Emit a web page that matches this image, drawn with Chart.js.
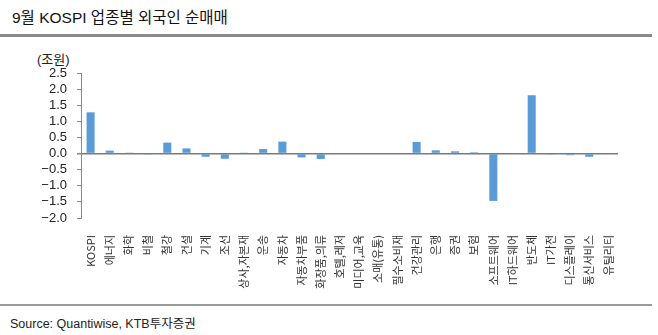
<!DOCTYPE html>
<html>
<head>
<meta charset="utf-8">
<script src="https://cdn.jsdelivr.net/npm/chart.js@4"></script>
<style>
  body { margin: 0; background: #fff; }
  #wrap { position: relative; width: 658px; height: 335px; font-family: "Liberation Sans", "Noto Sans CJK KR", sans-serif; }
  #title { position: absolute; left: 12px; top: 5px; font-size: 15.5px; color: #111; }
  #topLine { position: absolute; left: 0; top: 34px; width: 652px; height: 3px; background: #8a8a8a; }
  #unit { position: absolute; left: 37px; top: 49px; font-size: 13px; color: #222; }
  #bottomLine { position: absolute; left: 0; top: 304px; width: 652px; height: 2px; background: #9a9a9a; }
  #source { position: absolute; left: 10px; top: 313px; font-size: 12.5px; color: #222; }
  #chartBox { position: absolute; left: 0; top: 40px; width: 658px; height: 260px; }
</style>
</head>
<body>
<div id="wrap">
  <div id="title">9월 KOSPI 업종별 외국인 순매매</div>
  <div id="topLine"></div>
  <div id="unit">(조원)</div>
  <div id="chartBox"><canvas id="sectorChart"></canvas></div>
  <div id="bottomLine"></div>
  <div id="source">Source: Quantiwise, KTB투자증권</div>
</div>
<script>
const sectors = [
  "KOSPI", "에너지", "화학", "비철", "철강", "건설", "기계", "조선",
  "상사,자본재", "운송", "자동차", "자동차부품", "화장품,의류", "호텔,레저",
  "미디어,교육", "소매(유통)", "필수소비재", "건강관리", "은행", "증권", "보험",
  "소프트웨어", "IT하드웨어", "반도체", "IT가전", "디스플레이", "통신서비스", "유틸리티"
];

// 외국인 순매매 (조원)
const foreignNetBuy = [
  1.28, 0.09, 0.03, -0.03, 0.34, 0.16, -0.10, -0.16,
  0.03, 0.14, 0.37, -0.12, -0.17, 0.0,
  0.0, 0.0, 0.0, 0.36, 0.10, 0.07, 0.04,
  -1.47, 0.0, 1.81, -0.03, -0.05, -0.10, 0.0
];

const yTicks = [2.5, 2.0, 1.5, 1.0, 0.5, 0.0, -0.5, -1.0, -1.5, -2.0];

const ctx = document.getElementById("sectorChart").getContext("2d");

new Chart(ctx, {
  type: "bar",
  data: {
    labels: sectors,
    datasets: [{
      data: foreignNetBuy,
      backgroundColor: "#5b9bd5",
      barPercentage: 0.42,
      categoryPercentage: 1.0
    }]
  },
  options: {
    responsive: true,
    maintainAspectRatio: false,
    animation: false,
    layout: { padding: { top: 33, right: 40, left: 0, bottom: 0 } },
    plugins: {
      legend: { display: false },
      tooltip: { enabled: false }
    },
    scales: {
      x: {
        grid: { display: false },
        border: { display: false },
        ticks: {
          autoSkip: false,
          minRotation: 90,
          maxRotation: 90,
          padding: 9,
          color: "#333",
          font: { family: "'Noto Sans CJK KR'", size: 11 }
        },
        afterFit: function(scale) { scale.height = 82; }
      },
      y: {
        min: -2.0,
        max: 2.5,
        afterBuildTicks: function(scale) {
          scale.ticks = yTicks.map(v => ({ value: v }));
        },
        grid: {
          drawOnChartArea: true,
          drawTicks: true,
          tickLength: 4,
          tickColor: "#888",
          color: function(c) { return c.tick && c.tick.value === 0 ? "#7a7a7a" : "rgba(0,0,0,0)"; },
          lineWidth: function(c) { return c.tick && c.tick.value === 0 ? 1.5 : 1; }
        },
        border: { display: true, color: "#888" },
        ticks: {
          autoSkip: false,
          padding: 10,
          color: "#222",
          font: { family: "'Liberation Sans'", size: 13 },
          callback: function(value) {
            return Number(value).toFixed(1).replace("-", "\u2212");
          }
        },
        afterFit: function(scale) { scale.width = 81; }
      }
    }
  }
});
</script>
</body>
</html>
